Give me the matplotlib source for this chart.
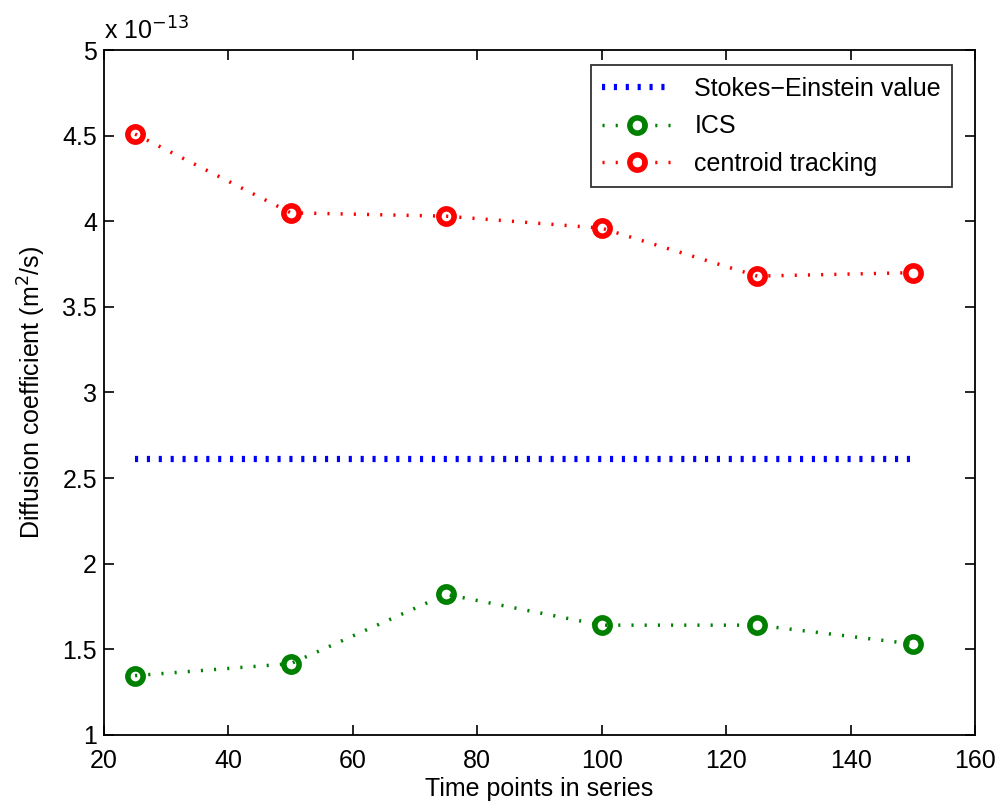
import matplotlib.pyplot as plt
import numpy as np

plt.rcParams['font.family'] = ['Liberation Sans', 'DejaVu Sans']

# time points and fitted diffusion coefficients (units of 1e-13 m^2/s)
time_points = [25, 50, 75, 100, 125, 150]
ics = [1.345, 1.415, 1.82, 1.64, 1.64, 1.53]
centroid = [4.51, 4.05, 4.03, 3.96, 3.68, 3.70]
stokes_einstein = 2.61

fig = plt.figure(figsize=(10, 8.1), dpi=100)
ax = fig.add_axes([0.104, 0.093, 0.871, 0.845])

ax.plot([time_points[0], time_points[-1]], [stokes_einstein, stokes_einstein],
        color='blue', linestyle=(0, (0.5, 1.4)), linewidth=4.5,
        label='Stokes\u2212Einstein value')
ax.plot(time_points, ics, color='green', linestyle=(0, (0.6, 3.2)), linewidth=2.5,
        marker='o', markersize=11, markerfacecolor='none', markeredgewidth=4,
        label='ICS')
ax.plot(time_points, centroid, color='red', linestyle=(0, (0.6, 3.2)), linewidth=2.5,
        marker='o', markersize=11, markerfacecolor='none', markeredgewidth=4,
        label='centroid tracking')

ax.set_xlim(20, 160)
ax.set_ylim(1, 5)
ax.set_xticks(np.arange(20, 161, 20))
ax.set_yticks(np.arange(1, 5.01, 0.5))
ax.set_yticklabels(['1', '1.5', '2', '2.5', '3', '3.5', '4', '4.5', '5'])
ax.tick_params(direction='in', length=7, width=1.2, labelsize=18,
               top=True, right=True)
ax.tick_params(axis='x', pad=10)
ax.tick_params(axis='y', pad=5)
for s in ax.spines.values():
    s.set_linewidth(1.3)

ax.text(0.0, 1.008, r'x 10$^{-13}$', transform=ax.transAxes, fontsize=18,
        ha='left', va='bottom')

ax.set_xlabel('Time points in series', fontsize=18, labelpad=3)
ax.set_ylabel(r'Diffusion coefficient (m$^2$/s)', fontsize=18, labelpad=10)

leg = ax.legend(loc='upper right', bbox_to_anchor=(0.974, 0.978), fontsize=18,
                frameon=True, fancybox=False, edgecolor='black',
                handlelength=2.8, handletextpad=0.9, borderpad=0.45,
                labelspacing=0.55, borderaxespad=0)
leg.get_frame().set_linewidth(1.3)

fig.savefig('out.png', dpi=100)
